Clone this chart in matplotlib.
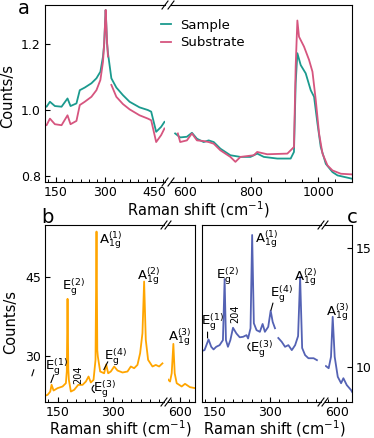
import numpy as np
import matplotlib
matplotlib.use("Agg")
import matplotlib.pyplot as plt
from matplotlib.ticker import MultipleLocator

nan = np.nan

# ---- panel a: substrate vs sample (normalised counts/s) ----
sample_x = [117, 121.8, 131.9, 147, 167.2, 185.3, 194.4, 212.4, 222.5, 237.6, 257.8, 273, 285,
            292.9, 296.5, 299.5, 301, 302.5, 305, 308, 318.3, 333.4, 353.4, 373.6, 403.8, 428.9,
            439.1, 454.2, 469.3, 479.3, 520,
            571.4, 586.5, 606.6, 621.7, 636.7, 656.8, 671.8, 686.9, 706.8, 736.8, 766.9, 797,
            817.1, 837, 877.3, 907.4, 917.3, 927.2, 932.3, 937.4, 947.4, 962.4, 977.4, 987.4,
            997.6, 1007.4, 1022.6, 1042.6, 1057.6, 1101]
sample_y = [1.012, 1.010, 1.025, 1.012, 1.010, 1.035, 1.012, 1.020, 1.060, 1.068, 1.081, 1.096, 1.116,
            1.162, 1.200, 1.270, 1.303, 1.270, 1.205, 1.172, 1.096, 1.068, 1.045, 1.025, 1.008, 1.000,
            0.995, 0.934, 0.949, 0.964, nan,
            0.929, 0.917, 0.919, 0.931, 0.913, 0.903, 0.908, 0.903, 0.883, 0.863, 0.858, 0.858,
            0.868, 0.858, 0.853, 0.853, 0.853, 0.873, 1.081, 1.172, 1.136, 1.111, 1.060, 1.040,
            0.959, 0.888, 0.837, 0.812, 0.802, 0.792]

substrate_x = [117, 121.8, 131.9, 147, 167.2, 185.3, 194.4, 212.4, 222.5, 237.6, 257.8, 273, 285,
               292.9, 296.5, 299.5, 301, 302.5, 305, 308, 313, 318.3, 333.4, 353.4, 373.6, 403.8,
               428.9, 439.1, 454.2, 469.3, 479.3, 520,
               579.5, 586.5, 606.6, 621.7, 636.7, 656.8, 671.8, 686.9, 706.8, 736.8, 751.9, 766.9,
               807, 817.1, 847.2, 907.4, 917.3, 927.2, 932.3, 937.4, 942.3, 957.3, 972.3, 982.6,
               992.5, 1002.4, 1012.6, 1027.7, 1042.6, 1067.7, 1101]
substrate_y = [0.954, 0.954, 0.974, 0.957, 0.954, 0.984, 0.957, 0.967, 1.015, 1.025, 1.040, 1.060, 1.091,
               1.146, 1.200, 1.270, 1.303, 1.270, 1.210, 1.162, nan, 1.076, 1.040, 1.018, 1.002, 0.984,
               0.974, 0.969, 0.903, 0.924, 0.944, nan,
               0.929, 0.903, 0.908, 0.929, 0.908, 0.906, 0.903, 0.898, 0.878, 0.858, 0.843, 0.858,
               0.863, 0.873, 0.866, 0.868, 0.878, 0.888, 1.131, 1.271, 1.222, 1.192, 1.152, 1.116,
               1.030, 0.929, 0.868, 0.832, 0.817, 0.807, 0.805]

# ---- panel b: orange spectrum ----
b_x = [116, 123, 130.2, 133.8, 139.2, 150, 163.5, 172.5, 175, 177, 179, 180.6, 186, 195, 205.9,
       217.6, 226.6, 233.8, 240, 247.3, 252.7, 255.4, 257.5, 259, 265.3, 276.1, 281.5, 286.9,
       294.1, 303.2, 312.2, 325.7, 339.2, 348.2, 357.2, 366.2, 373.4, 379.7, 384.2, 388.7, 395,
       406.8, 415.8, 424.8, 433.8, 500,
       564, 573, 577.5, 582, 585.6, 591, 604.5, 613.5, 627, 641]
b_y = [22.3, 22.47, 23.1, 24.4, 23.3, 23.75, 24.07, 24.7, 27.0, 40.85, 27.5, 25.34, 23.1, 23.43, 24.38,
       24.38, 25.02, 25.98, 24.83, 25.34, 29.17, 53.74, 31.0, 29.8, 26.94, 26.6, 28.3, 26.6,
       26.94, 27.9, 27.13, 26.75, 26.94, 27.9, 27.57, 28.21, 30.45, 34.28, 44.17, 33.0, 29.17,
       27.9, 28.2, 27.9, 28.5, nan,
       25.66, 25.02, 26.6, 32.23, 26.6, 24.7, 24.07, 24.58, 23.94, 23.75]

# ---- panel c: blue spectrum ----
c_x = [116, 122.8, 133.7, 141, 147.3, 154.5, 163.6, 172.6, 177.2, 180.8, 186.2, 192.7, 199.9,
       209.1, 218.1, 227.1, 236.4, 240.7, 247.3, 251.7, 256.3, 263.6, 272.6, 280, 286.2, 295.2,
       301.8, 307.2, 313.5, 318, 322.5, 331.7, 340.7, 349.7, 359, 368, 376, 381.5, 387, 395,
       404, 418, 427, 500,
       570, 577.4, 583.7, 588.3, 593.7, 602, 611, 617.2, 626.4, 638, 641]
c_y = [10.68, 10.71, 11.16, 10.85, 10.74, 10.85, 10.92, 11.13, 13.70, 11.13, 10.85, 11.13, 11.65,
       11.41, 11.25, 11.27, 11.34, 11.2, 11.63, 15.55, 11.84, 11.55, 11.48, 11.81, 11.48, 11.69,
       12.37, 11.9, 11.63, nan, 11.22, 11.06, 10.85, 10.92, 10.71, 10.92, 11.3, 13.79, 10.8, 10.5,
       10.37, 10.37, 10.29, nan,
       10.04, 9.95, 10.43, 12.11, 10.43, 9.59, 9.32, 9.53, 9.24, 9.03, 8.95]

TEAL = "#1b9a8e"
PINK = "#d6557f"
ORANGE = "#ffa500"
BLUE = "#5462b4"

plt.rcParams["font.family"] = "DejaVu Sans"
plt.rcParams["mathtext.default"] = "regular"
plt.rcParams["axes.linewidth"] = 0.8

W, H = 374, 438
fig = plt.figure(figsize=(W / 100, H / 100), dpi=100)


def rect(x0, x1, top, bottom):
    return [x0 / W, 1 - bottom / H, (x1 - x0) / W, (bottom - top) / H]


def break_marks(ax, side):
    bb = ax.get_position()
    dx = 3 / (bb.width * W)
    dy = 4 / (bb.height * H)
    x = 1 if side == "right" else 0
    for y in (0, 1):
        ax.plot([x - dx, x + dx], [y - dy, y + dy], transform=ax.transAxes,
                color="k", lw=0.8, clip_on=False)


def broken(x_l, x_m1, x_m2, x_r, top, bottom, lim_l, lim_r, ylim):
    axl = fig.add_axes(rect(x_l, x_m1, top, bottom))
    axr = fig.add_axes(rect(x_m2, x_r, top, bottom))
    axl.set_xlim(*lim_l)
    axr.set_xlim(*lim_r)
    for ax in (axl, axr):
        ax.set_ylim(*ylim)
        ax.tick_params(which="both", direction="in", labelsize=9, top=False, right=False,
                       left=False, labelleft=False, pad=3)
        ax.tick_params(which="major", length=3.5, width=0.8)
        ax.tick_params(which="minor", length=2, width=0.7)
    axl.spines["right"].set_visible(False)
    axr.spines["left"].set_visible(False)
    break_marks(axl, "right")
    break_marks(axr, "left")
    return axl, axr


# ---- panel a ----
aL, aR = broken(45, 165, 171, 352, 5, 182, (117, 481), (559, 1101), (0.782, 1.318))
for ax in (aL, aR):
    ax.plot(sample_x, sample_y, color=TEAL, lw=1.3, label="Sample")
    ax.plot(substrate_x, substrate_y, color=PINK, lw=1.3, label="Substrate")
aL.tick_params(axis="y", left=True, labelleft=True)
aL.xaxis.set_major_locator(MultipleLocator(150))
aL.xaxis.set_minor_locator(MultipleLocator(25))
aR.xaxis.set_major_locator(MultipleLocator(200))
aR.xaxis.set_minor_locator(MultipleLocator(50))
aL.yaxis.set_major_locator(MultipleLocator(0.2))
aL.yaxis.set_minor_locator(MultipleLocator(0.05))
aL.yaxis.set_major_formatter(matplotlib.ticker.FormatStrFormatter("%.1f"))
h, l = aL.get_legend_handles_labels()
fig.legend(h, l, loc="upper left", bbox_to_anchor=(154 / W, 1 - 12 / H), frameon=False,
           fontsize=9.5, handlelength=0.8, handletextpad=0.7, labelspacing=0.35, borderpad=0)
fig.text(24 / W, 1 - 13.5 / H, "a", fontsize=14, ha="center", va="baseline")
fig.text(8 / W, 1 - 96 / H, "Counts/s", rotation=90, fontsize=10.5, ha="center", va="center")
fig.text(198 / W, 1 - 210 / H, "Raman shift (cm$^{-1}$)", fontsize=10.5, ha="center", va="center")

# ---- panel b ----
bL, bR = broken(45, 164, 168, 195, 225, 402, (116, 438), (567.5, 640.5), (21.1, 55))
for ax in (bL, bR):
    ax.plot(b_x, b_y, color=ORANGE, lw=1.3)
bL.tick_params(axis="y", left=True, labelleft=True)
bL.yaxis.set_major_locator(MultipleLocator(15))
bL.yaxis.set_minor_locator(MultipleLocator(3.75))
for ax in (bL, bR):
    ax.xaxis.set_major_locator(MultipleLocator(150))
    ax.xaxis.set_minor_locator(MultipleLocator(25))
fig.text(47.5 / W, 1 - 223 / H, "b", fontsize=14, ha="center", va="baseline")
fig.text(11 / W, 1 - 322 / H, "Counts/s", rotation=90, fontsize=10.5, ha="center", va="center")
fig.text(120 / W, 1 - 429 / H, "Raman shift (cm$^{-1}$)", fontsize=10.5, ha="center", va="center")

ann = dict(fontsize=9.5, ha="center", va="center")
line = dict(arrowstyle="-", lw=0.8, color="k", shrinkA=0, shrinkB=0)
bL.text(294, 52.1, "$A_{1g}^{(1)}$", **ann)
bL.text(192.7, 43.1, "$E_{g}^{(2)}$", **ann)
bL.text(396.8, 45.1, "$A_{1g}^{(2)}$", **ann)
bR.text(600, 33.6, "$A_{1g}^{(3)}$", **ann)
bL.text(307.6, 29.7, "$E_{g}^{(4)}$", **ann)
bL.text(148.1, 27.8, "$E_{g}^{(1)}$", **ann)
bL.text(277.8, 23.6, "$E_{g}^{(3)}$", **ann)
bL.text(206.2, 26.4, "204", fontsize=7, rotation=90, ha="center", va="center")
bL.annotate("", xy=(140, 26.3), xytext=(131.9, 24.8), arrowprops=line)
bL.annotate("", xy=(285.9, 28.8), xytext=(275.1, 27.3), arrowprops=line)
bL.annotate("", xy=(248.5, 24.3), xytext=(250, 22.9),
            arrowprops=dict(line, connectionstyle="arc3,rad=-0.6"))
bL.annotate("", xy=(85.9, 27.3), xytext=(80.5, 26.1), arrowprops=line, annotation_clip=False)

# ---- panel c ----
cL, cR = broken(202, 321, 325, 352, 225, 402, (116, 438), (567.5, 640.5), (8.53, 15.97))
for ax in (cL, cR):
    ax.plot(c_x, c_y, color=BLUE, lw=1.3)
cR.tick_params(axis="y", right=True, labelright=True)
cR.yaxis.set_major_locator(MultipleLocator(5))
cR.yaxis.set_minor_locator(MultipleLocator(1.25))
for ax in (cL, cR):
    ax.xaxis.set_major_locator(MultipleLocator(150))
    ax.xaxis.set_minor_locator(MultipleLocator(25))
fig.text(352 / W, 1 - 223 / H, "c", fontsize=14, ha="center", va="baseline")
fig.text(274 / W, 1 - 429 / H, "Raman shift (cm$^{-1}$)", fontsize=10.5, ha="center", va="center")

cL.text(291.7, 15.38, "$A_{1g}^{(1)}$", **ann)
cL.text(185.4, 13.82, "$E_{g}^{(2)}$", **ann)
cL.text(398, 13.76, "$A_{1g}^{(2)}$", **ann)
cL.text(329.8, 13.07, "$E_{g}^{(4)}$", **ann)
cR.text(602.7, 12.29, "$A_{1g}^{(3)}$", **ann)
cL.text(143.2, 11.89, "$E_{g}^{(1)}$", **ann)
cL.text(278, 10.76, "$E_{g}^{(3)}$", **ann)
cL.text(207.2, 12.23, "204", fontsize=7, rotation=90, ha="center", va="center")
cL.annotate("", xy=(131, 11.47), xytext=(131, 11.22), arrowprops=line)
cL.annotate("", xy=(308, 12.69), xytext=(302.6, 12.39), arrowprops=line)
cL.annotate("", xy=(245.4, 11.0), xytext=(247, 10.68),
            arrowprops=dict(line, connectionstyle="arc3,rad=-0.6"))

fig.savefig("out.png", dpi=100)
